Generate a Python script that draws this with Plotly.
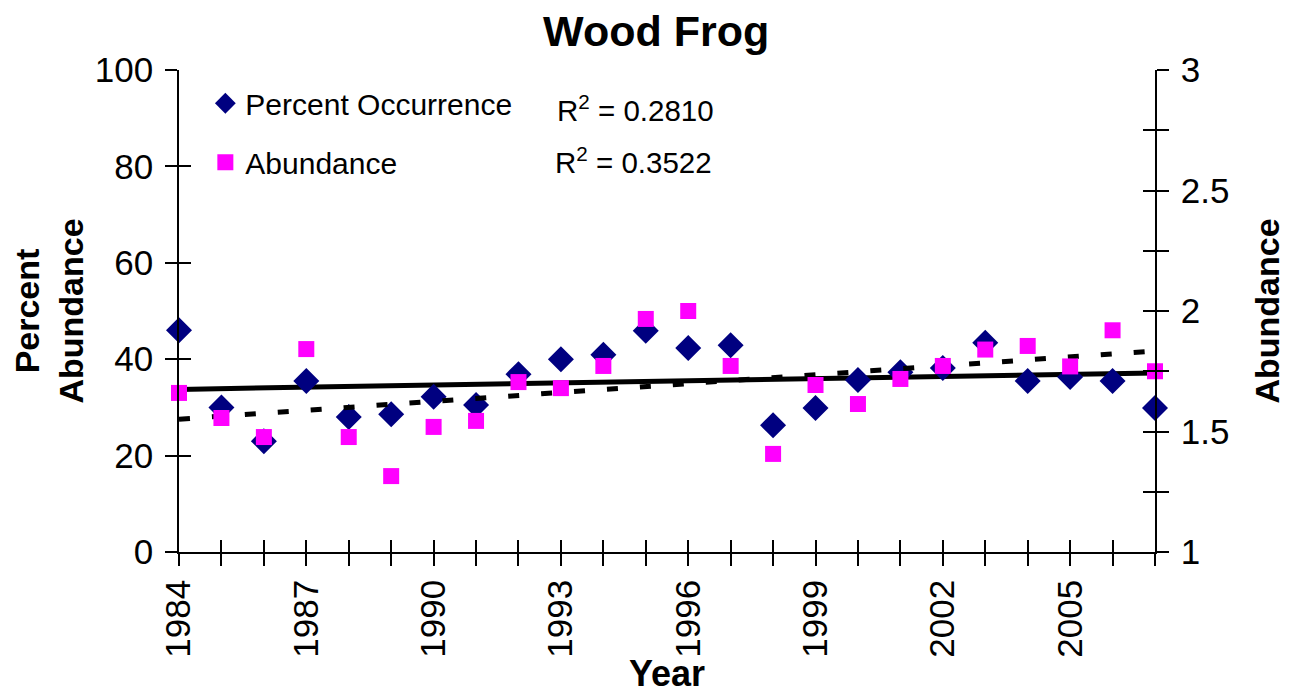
import numpy as np
import plotly.graph_objects as go

years = list(range(1984, 2008))
percent_occurrence = [46.0, 30.0, 23.0, 35.5, 28.0, 28.6, 32.2, 30.5, 36.9, 40.0, 40.9, 45.9,
                      42.3, 42.9, 26.3, 29.9, 35.7, 37.3, 38.2, 43.4, 35.5, 36.3, 35.5, 29.9]
abundance = [1.66, 1.556, 1.477, 1.842, 1.477, 1.315, 1.519, 1.544, 1.705, 1.68, 1.772, 1.967,
             2.0, 1.772, 1.407, 1.693, 1.614, 1.718, 1.772, 1.84, 1.855, 1.77, 1.92, 1.75]
year_ticks = [1984, 1987, 1990, 1993, 1996, 1999, 2002, 2005]
year_labels = ["1984", "1987", "1990", "1993", "1996", "1999", "2002", "2005"]
left_ticks = [0, 20, 40, 60, 80, 100]
right_ticks = [1, 1.5, 2, 2.5, 3]
right_labels = ["1", "1.5", "2", "2.5", "3"]
right_minor = [1.25, 1.75, 2.25, 2.75]
r2_texts = ["R<sup>2</sup> = 0.2810", "R<sup>2</sup> = 0.3522"]

FONT = "Liberation Sans, Arial, sans-serif"
NAVY = "#000080"
MAGENTA = "#FF00FF"

x = np.array(years, dtype=float)
p_fit = np.polyfit(x, percent_occurrence, 1)
a_fit = np.polyfit(x, abundance, 1)

fig = go.Figure()
fig.add_trace(go.Scatter(x=years, y=np.polyval(p_fit, x), mode="lines",
                         line=dict(color="black", width=5), showlegend=False,
                         hoverinfo="skip", yaxis="y"))
fig.add_trace(go.Scatter(x=years, y=np.polyval(a_fit, x), mode="lines",
                         line=dict(color="black", width=5, dash="11px,22px"), showlegend=False,
                         hoverinfo="skip", yaxis="y2"))
fig.add_trace(go.Scatter(x=years, y=percent_occurrence, mode="markers", name="Percent Occurrence",
                         marker=dict(symbol="diamond", size=20, color=NAVY),
                         cliponaxis=False, legendgroup="a", yaxis="y"))
fig.add_trace(go.Scatter(x=years, y=abundance, mode="markers", name="Abundance",
                         marker=dict(symbol="square", size=16, color=MAGENTA),
                         cliponaxis=False, legendgroup="b", yaxis="y2"))
# invisible helpers so overlay axes (crossing ticks) render
fig.add_trace(go.Scatter(x=[years[0]], y=[0], mode="markers", marker=dict(opacity=0),
                         showlegend=False, hoverinfo="skip", xaxis="x2", yaxis="y3"))
fig.add_trace(go.Scatter(x=[years[0]], y=[1], mode="markers", marker=dict(opacity=0),
                         showlegend=False, hoverinfo="skip", xaxis="x2", yaxis="y4"))

tickfont = dict(family=FONT, size=35, color="black")
TL = 12
common_x = dict(range=[years[0], years[-1]], tickvals=year_ticks, showgrid=False, zeroline=False,
                ticklen=TL, tickwidth=1.5, tickcolor="black")
fig.update_layout(
    width=1286, height=686,
    margin=dict(l=171, r=139, t=62, b=142, autoexpand=False),
    paper_bgcolor="white", plot_bgcolor="white",
    title=dict(text="<b>Wood Frog</b>", x=0.504, xanchor="center", y=0.967, yanchor="middle",
               font=dict(family=FONT, size=43, color="black")),
    xaxis=dict(**common_x, ticktext=year_labels, ticks="outside", tickangle=-90,
               minor=dict(tickvals=years, ticks="outside", ticklen=TL, tickwidth=1.5,
                          tickcolor="black", showgrid=False),
               showline=True, linecolor="black", linewidth=1.5, tickfont=tickfont),
    xaxis2=dict(**common_x, overlaying="x", ticks="inside", showticklabels=False,
                minor=dict(tickvals=years, ticks="inside", ticklen=TL, tickwidth=1.5,
                           tickcolor="black", showgrid=False),
                showline=False, side="bottom"),
    yaxis=dict(range=[0, 100], tickvals=left_ticks, ticks="outside", ticklen=TL,
               tickwidth=1.5, tickcolor="black", showline=True, linecolor="black",
               linewidth=1.5, showgrid=False, zeroline=False, tickfont=tickfont,
               ticklabelstandoff=5,
               title=dict(text="<b>Percent<br>Abundance</b>",
                          font=dict(family=FONT, size=34, color="black"), standoff=9)),
    yaxis2=dict(range=[1, 3], tickvals=right_ticks, ticktext=right_labels, overlaying="y",
                side="right", ticks="outside", ticklen=TL, tickwidth=1.5, tickcolor="black",
                minor=dict(tickvals=right_minor, ticks="outside", ticklen=TL, tickwidth=1.5,
                           tickcolor="black", showgrid=False),
                showline=True, linecolor="black", linewidth=1.5, showgrid=False,
                zeroline=False, tickfont=tickfont, ticklabelstandoff=5,
                title=dict(text="<b>Abundance</b>", font=dict(family=FONT, size=34, color="black"),
                           standoff=27)),
    yaxis3=dict(range=[0, 100], tickvals=left_ticks, overlaying="y", side="left",
                ticks="inside", ticklen=TL, tickwidth=1.5, tickcolor="black",
                showticklabels=False, showgrid=False, zeroline=False, showline=False),
    yaxis4=dict(range=[1, 3], tickvals=right_ticks, overlaying="y", side="right",
                ticks="inside", ticklen=TL, tickwidth=1.5, tickcolor="black",
                minor=dict(tickvals=right_minor, ticks="inside", ticklen=TL, tickwidth=1.5,
                           tickcolor="black", showgrid=False),
                showticklabels=False, showgrid=False, zeroline=False, showline=False),
    legend=dict(x=0.027, y=0.985, xanchor="left", yanchor="top", bgcolor="rgba(0,0,0,0)",
                font=dict(family=FONT, size=30, color="black"), traceorder="grouped",
                tracegroupgap=17, itemsizing="trace"),
    showlegend=True,
)
fig.add_annotation(text="<b>Year</b>", xref="paper", yref="paper", x=0.5, y=-0.299,
                   xanchor="center", yanchor="bottom", showarrow=False,
                   font=dict(family=FONT, size=36, color="black"))
fig.add_annotation(text=r2_texts[0], xref="paper", yref="paper", x=0.385, y=0.921,
                   xanchor="left", yanchor="middle", showarrow=False,
                   font=dict(family=FONT, size=29.5, color="black"))
fig.add_annotation(text=r2_texts[1], xref="paper", yref="paper", x=0.383, y=0.813,
                   xanchor="left", yanchor="middle", showarrow=False,
                   font=dict(family=FONT, size=29.5, color="black"))

fig.write_html("out.html")
